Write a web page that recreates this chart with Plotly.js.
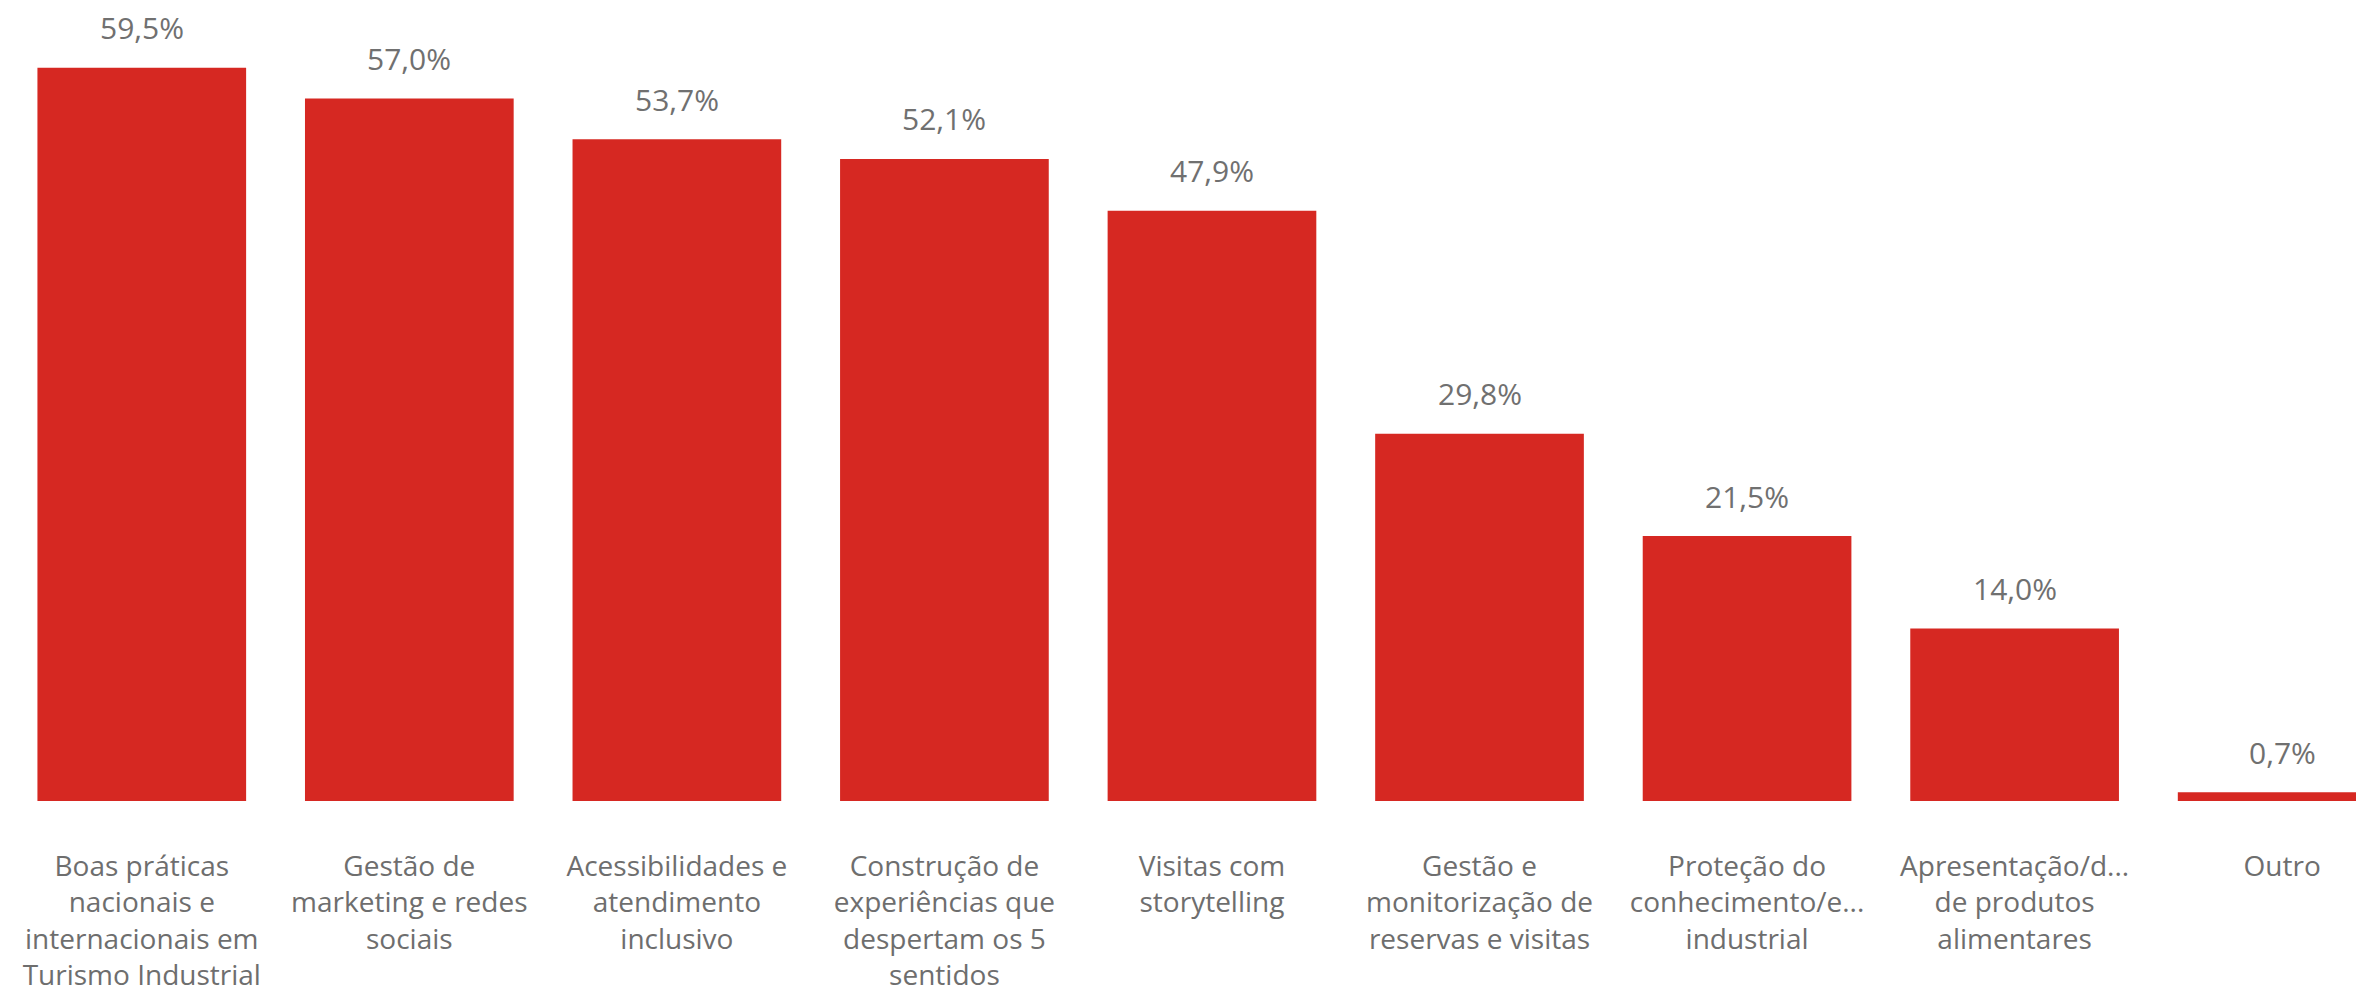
<!DOCTYPE html>
<html>
<head>
<meta charset="utf-8">
<script src="https://cdn.plot.ly/plotly-3.0.1.min.js"></script>
<style>html,body{margin:0;padding:0;background:#fff;}#chart{width:2356px;height:997px;}</style>
</head>
<body>
<div id="chart"></div>
<script>
const categories = [
  "Boas práticas nacionais e internacionais em Turismo Industrial",
  "Gestão de marketing e redes sociais",
  "Acessibilidades e atendimento inclusivo",
  "Construção de experiências que despertam os 5 sentidos",
  "Visitas com storytelling",
  "Gestão e monitorização de reservas e visitas",
  "Proteção do conhecimento/experiência industrial",
  "Apresentação/degustação de produtos alimentares",
  "Outro"
];
const tickLabels = [
  "Boas práticas<br>nacionais e<br>internacionais em<br>Turismo Industrial",
  "Gestão de<br>marketing e redes<br>sociais",
  "Acessibilidades e<br>atendimento<br>inclusivo",
  "Construção de<br>experiências que<br>despertam os 5<br>sentidos",
  "Visitas com<br>storytelling",
  "Gestão e<br>monitorização de<br>reservas e visitas",
  "Proteção do<br>conhecimento/e...<br>industrial",
  "Apresentação/d...<br>de produtos<br>alimentares",
  "Outro"
];
const values = [59.5, 57.0, 53.7, 52.1, 47.9, 29.8, 21.5, 14.0, 0.7];

const fmt = v => v.toFixed(1).replace('.', ',') + '%';
const FONT = '"Segoe UI", "Open Sans", "Noto Sans", sans-serif';

const trace = {
  type: 'bar',
  x: categories,
  y: values,
  marker: {color: '#D62822'},
  hoverinfo: 'none'
};

const annotations = categories.map((c, i) => ({
  x: c, y: values[i], xref: 'x', yref: 'y',
  text: fmt(values[i]), showarrow: false,
  yanchor: 'middle', yshift: 40,
  font: {family: FONT, size: 30, color: '#707070'}
}));

const layout = {
  width: 2356, height: 997,
  margin: {l: 8, r: 0, t: 0, b: 196},
  paper_bgcolor: '#ffffff', plot_bgcolor: '#ffffff',
  showlegend: false,
  bargap: 0.22,
  xaxis: {
    type: 'category',
    range: [-0.5, 8.276],
    tickvals: categories,
    ticktext: tickLabels,
    showgrid: false, zeroline: false, showline: false,
    ticks: '', ticklabelstandoff: 46,
    tickfont: {family: FONT, size: 28, color: '#6e6e6e'},
    tickangle: 0
  },
  yaxis: {
    range: [0, 65],
    visible: false,
    showgrid: false, zeroline: false
  },
  annotations: annotations
};

Plotly.newPlot('chart', [trace], layout, {displayModeBar: false, staticPlot: true});
</script>
</body>
</html>
